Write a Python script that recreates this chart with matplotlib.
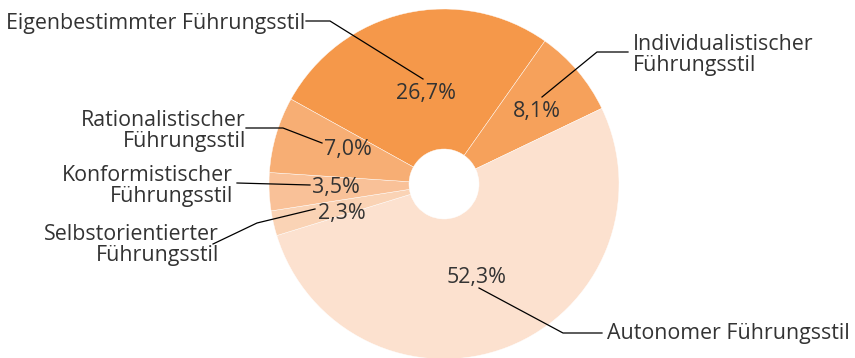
import numpy as np
import matplotlib
matplotlib.use('Agg')
import matplotlib.pyplot as plt

# data, clockwise starting with Eigenbestimmter
styles = ['Eigenbestimmter Führungsstil', 'Individualistischer\nFührungsstil',
          'Autonomer Führungsstil', 'Selbstorientierter\nFührungsstil',
          'Konformistischer\nFührungsstil', 'Rationalistischer\nFührungsstil']
shares = [26.7, 8.1, 52.3, 2.3, 3.5, 7.0]
colors = ['#F5984A', '#F6A15B', '#FCE1CF', '#FAD3B5', '#F9C198', '#F7AE74']

W, H = 855, 358
# layout in image pixels (y down)
cx, cy, R = 444, 184, 175
pct_pos = [(426, 94), (537, 112), (477, 277), (342, 213), (336, 188), (348, 149)]
lab_pos = [(305, 23, 'right'), (633, 55, 'left'), (607, 333, 'left'),
           (219, 245, 'right'), (233, 186, 'right'), (246, 131, 'right')]
leaders = [[(306, 21), (330, 21), (423, 79)],
           [(628, 52), (597, 52), (542, 97)],
           [(602, 333), (563, 333), (479, 288)],
           [(213, 244), (257, 223), (315, 209)],
           [(237, 183), (310, 185)],
           [(246, 128), (283, 128), (322, 143)]]

plt.rcParams['font.family'] = ['Open Sans', 'DejaVu Sans']
fig = plt.figure(figsize=(W / 100, H / 100), dpi=100)
ax = fig.add_axes([0, 0, 1, 1])

ax.pie(shares, colors=colors, startangle=151, counterclock=False,
       center=(cx, H - cy), radius=R,
       wedgeprops=dict(width=R * 0.8, edgecolor='white', linewidth=0.3))
ax.set_xlim(0, W)
ax.set_ylim(0, H)
ax.set_aspect('equal')
ax.axis('off')

txt = '#333333'
fs = 15.4
for s, (px, py) in zip(shares, pct_pos):
    ax.text(px, H - py, f'{s:.1f}%'.replace('.', ','), ha='center', va='center',
            fontsize=fs, color=txt)
for name, (lx, ly, ha), pts in zip(styles, lab_pos, leaders):
    ax.text(lx, H - ly, name, ha=ha, va='center', fontsize=fs, color=txt,
            linespacing=1.05)
    xs = [p[0] for p in pts]
    ys = [H - p[1] for p in pts]
    ax.plot(xs, ys, color='black', lw=0.9)

fig.savefig('out.png', dpi=100)
